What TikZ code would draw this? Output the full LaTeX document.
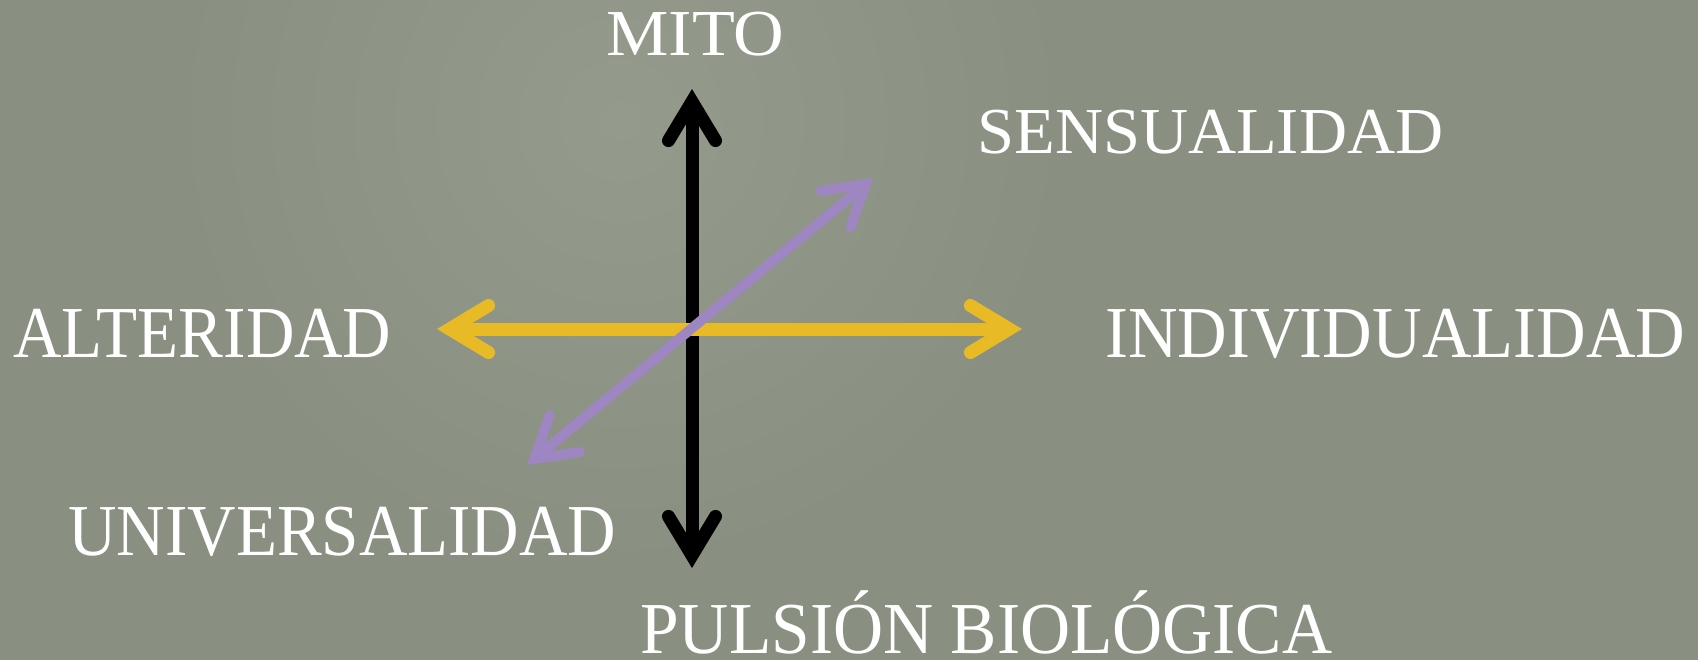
\documentclass[tikz,border=0pt]{standalone}
\usepackage{fontspec}
\usepackage{graphicx}
\setmainfont{Liberation Serif}
\usetikzlibrary{arrows.meta}
\definecolor{bgcol}{RGB}{137,144,129}
\definecolor{bglight}{RGB}{148,154,140}
\definecolor{yelcol}{RGB}{232,187,38}
\definecolor{purcol}{RGB}{158,134,194}
\newcommand\labtxt[3]{\resizebox{#2}{\height}{\fontsize{#1}{#1}\selectfont #3}}
\tikzset{
  lbl/.style={text=white, inner sep=0pt, anchor=base west},
  barb/.style={arrows={Straight Barb[length=19.5pt, width=23.5pt, line cap=round, line join=miter]-Straight Barb[length=19.5pt, width=23.5pt, line cap=round, line join=miter]}},
  axis/.style={line width=#1, line cap=round, barb},
}
\begin{document}
\begin{tikzpicture}[x=0.5pt, y=-0.5pt]
\useasboundingbox (0,0) rectangle (1698,660);
\fill[bgcol] (0,0) rectangle (1698,660);
\begin{scope}
  \clip (0,0) rectangle (1698,660);
  \shade[inner color=bglight, outer color=bgcol] (620,120) circle (450);
\end{scope}
% arrow end points
\coordinate (vtop) at (692,89);
\coordinate (vbot) at (692,568);
\coordinate (hleft) at (437,329);
\coordinate (hright) at (1022,329);
\coordinate (dtop) at (873,178);
\coordinate (dbot) at (527,465);
\draw[axis=6.5pt, black] (vbot) -- (vtop);
\draw[axis=6.5pt, yelcol] (hleft) -- (hright);
\draw[axis=5pt, purcol] (dbot) -- (dtop);
% labels
\node[lbl] (mito) at (606,55) {\labtxt{32.8pt}{89pt}{MITO}};
\node[lbl] (sens) at (977,153) {\labtxt{32.8pt}{233pt}{SENSUALIDAD}};
\node[lbl] (alt) at (13,357) {\labtxt{36.6pt}{189pt}{ALTERIDAD}};
\node[lbl] (ind) at (1105,357) {\labtxt{36.6pt}{290pt}{INDIVIDUALIDAD}};
\node[lbl] (univ) at (68,555) {\labtxt{36.6pt}{274pt}{UNIVERSALIDAD}};
\node[lbl] (puls) at (640,653) {\labtxt{36.6pt}{346pt}{PULSIÓN BIOLÓGICA}};
\end{tikzpicture}
\end{document}
